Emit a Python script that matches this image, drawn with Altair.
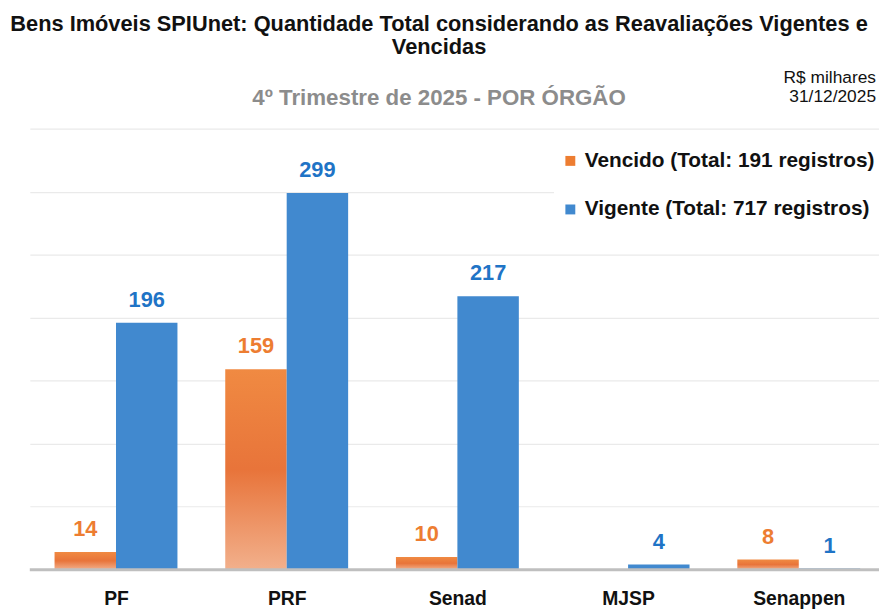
import json
import altair as alt
import pandas as pd

# ---- data ----
categories = ["PF", "PRF", "Senad", "MJSP", "Senappen"]
series = ["Vencido", "Vigente"]
vencido = [14, 159, 10, None, 8]
vigente = [196, 299, 217, 4, 1]
y_ticks = [0, 50, 100, 150, 200, 250, 300, 350]

title_lines = [
    "Bens Imóveis SPIUnet: Quantidade Total considerando as Reavaliações Vigentes e",
    "Vencidas",
]
subtitle = "4º Trimestre de 2025 - POR ÓRGÃO"
note_lines = ["R$ milhares", "31/12/2025"]

tot_venc = sum(v for v in vencido if v is not None)
tot_vig = sum(v for v in vigente if v is not None)
legend_labels = {
    "Vencido": f"Vencido (Total: {tot_venc} registros)",
    "Vigente": f"Vigente (Total: {tot_vig} registros)",
}

rows = []
for i, (c, v) in enumerate(zip(categories, vencido)):
    if v is not None:
        rows.append({"orgao": c, "idx": i, "serie": "Vencido", "valor": v})
for i, (c, v) in enumerate(zip(categories, vigente)):
    if v is not None:
        rows.append({"orgao": c, "idx": i, "serie": "Vigente", "valor": v})
df = pd.DataFrame(rows)

FONT = "Liberation Sans"
ORANGE = "#ED7D31"
BLUE = "#4189CF"
ORANGE_TXT = "#ED7D31"
BLUE_TXT = "#1F74C6"

W = 857
H = 445
BW = 0.36  # bar width in category units

x_scale = alt.Scale(domain=[-0.505, 4.47], nice=False, zero=False)
x_axis = alt.Axis(
    title=None, values=list(range(len(categories))),
    labelExpr=f"{json.dumps(categories)}[datum.value]",
    labelAngle=0, labelFont=FONT, labelFontWeight="bold", labelFontSize=19.5,
    labelColor="#111111", labelPadding=20, labelFlush=False, labelOverlap=False,
    labelBound=False, ticks=False, domain=False, grid=False,
)
y_enc = alt.Y(
    "valor:Q",
    scale=alt.Scale(domain=[0, 350], nice=False),
    axis=alt.Axis(
        title=None, labels=False, ticks=False, domain=False, values=y_ticks,
        gridColor="#EAEAEA", gridWidth=1.2,
    ),
)

base = alt.Chart(df).transform_calculate(
    x0=f"datum.idx + (datum.serie == 'Vencido' ? {-BW} : 0)",
).transform_calculate(
    x1=f"datum.x0 + {BW}",
    xm=f"datum.x0 + {BW / 2}",
)

grad = alt.Gradient(
    gradient="linear",
    stops=[
        alt.GradientStop(color="#F08A42", offset=0),
        alt.GradientStop(color="#E8743A", offset=0.5),
        alt.GradientStop(color="#F2B08C", offset=1),
    ],
    x1=0, x2=0, y1=0, y2=1,
)

orange_bars = base.transform_filter(alt.datum.serie == "Vencido").mark_bar(fill=grad).encode(
    x=alt.X("x0:Q", scale=x_scale, axis=x_axis), x2="x1:Q", y=y_enc, y2=alt.datum(0)
)

legend_expr = (
    f"datum.label == 'Vencido' ? '{legend_labels['Vencido']}' : '{legend_labels['Vigente']}'"
)

blue_bars = base.transform_filter(alt.datum.serie == "Vigente").mark_bar().encode(
    x=alt.X("x0:Q", scale=x_scale, axis=x_axis),
    x2="x1:Q",
    y=y_enc,
    y2=alt.datum(0),
    color=alt.Color(
        "serie:N",
        scale=alt.Scale(domain=series, range=[ORANGE, BLUE]),
        legend=alt.Legend(
            title=None, orient="none", legendX=529, legendY=16,
            symbolType="square", symbolSize=100, symbolStrokeWidth=0,
            labelFont=FONT, labelFontWeight="bold", labelFontSize=21,
            labelColor="#111111", labelOffset=4, rowPadding=27,
            labelLimit=400, fillColor="white", padding=6,
            labelExpr=legend_expr,
        ),
    ),
)

labels = base.mark_text(
    font=FONT, fontWeight="bold", fontSize=22, baseline="alphabetic", dy=-16
).encode(
    x=alt.X("xm:Q", scale=x_scale, axis=x_axis),
    y=y_enc,
    text="valor:Q",
    color=alt.Color("serie:N", scale=alt.Scale(domain=series, range=[ORANGE_TXT, BLUE_TXT]), legend=None),
)

baseline_rule = alt.Chart(pd.DataFrame({"v": [0]})).mark_rule(color="#BFBFBF", strokeWidth=3).encode(
    y=alt.datum(0)
)

hdr = alt.Chart(pd.DataFrame({"d": [0]}))
title1 = hdr.mark_text(font=FONT, fontWeight="bold", fontSize=22, color="#111111", baseline="middle", align="center").encode(
    x=alt.value(413), y=alt.value(-106), text=alt.value(title_lines[0])
)
title2 = hdr.mark_text(font=FONT, fontWeight="bold", fontSize=22, color="#111111", baseline="middle", align="center").encode(
    x=alt.value(413), y=alt.value(-82), text=alt.value(title_lines[1])
)
sub = hdr.mark_text(font=FONT, fontWeight="bold", fontSize=22.5, color="#8C8C8C", baseline="middle", align="center").encode(
    x=alt.value(413), y=alt.value(-31), text=alt.value(subtitle)
)
note1 = hdr.mark_text(font=FONT, fontSize=17.5, color="#111111", baseline="middle", align="right").encode(
    x=alt.value(854), y=alt.value(-51), text=alt.value(note_lines[0])
)
note2 = hdr.mark_text(font=FONT, fontSize=17.5, color="#111111", baseline="middle", align="right").encode(
    x=alt.value(854), y=alt.value(-32), text=alt.value(note_lines[1])
)

chart = (
    alt.layer(orange_bars, blue_bars, baseline_rule, labels, title1, title2, sub, note1, note2)
    .resolve_scale(color="independent")
    .properties(
        width=W, height=H,
        autosize=alt.AutoSizeParams(type="none"),
        padding={"left": 22, "top": 119, "right": 0, "bottom": 46},
    )
    .configure_view(stroke=None)
)

chart.save("out.html", embed_options={"renderer": "svg", "actions": False})
